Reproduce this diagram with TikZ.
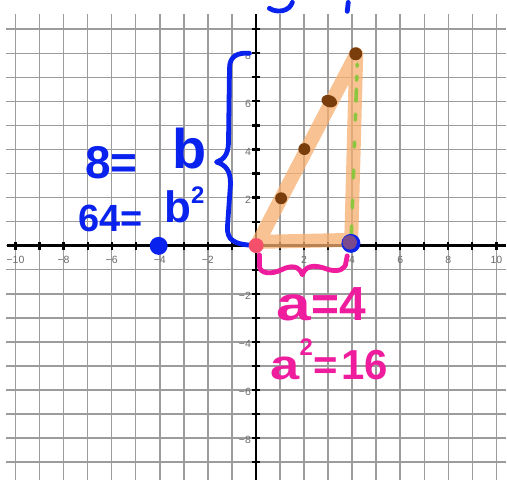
\documentclass[tikz,border=0pt]{standalone}
\usepackage{fontspec}
\setmainfont{Liberation Sans}
\definecolor{gridgray}{HTML}{9C9C9C}
\definecolor{labgray}{HTML}{6A6A6A}
\definecolor{penblue}{HTML}{0A22EE}
\definecolor{penpink}{HTML}{F01C9E}
\definecolor{penorange}{HTML}{F7AE6E}
\definecolor{penbrown}{HTML}{7A3E0C}
\definecolor{pengreen}{HTML}{8CC63F}
\definecolor{penred}{HTML}{F4506C}
\definecolor{penpurple}{HTML}{7B4A8C}
\begin{document}
\begin{tikzpicture}[x=24.1pt,y=24.1pt,
  gridline/.style={draw=gridgray, line width=1.5pt},
  axisline/.style={draw=black, line width=2.4pt},
  tickmark/.style={draw=black, line width=2.2pt},
  axlabel/.style={text=labgray, font=\fontsize{10.5}{10.5}\selectfont, inner sep=0pt},
  bluepen/.style={draw=penblue, line width=4.8pt, line cap=round, line join=round},
  pinkpen/.style={draw=penpink, line width=4.8pt, line cap=round, line join=round},
  bluetext/.style={text=penblue, inner sep=0pt, anchor=base west, font=\bfseries},
  pinktext/.style={text=penpink, inner sep=0pt, anchor=base west, font=\bfseries}]
% pixel scope for bounding box
\begin{scope}[shift={(-256.5pt,241.8pt)}, x=1pt, y=-1pt]
  \useasboundingbox (0,0) rectangle (507,477);
  \fill[white] (0,0) rectangle (507,477);
\end{scope}
% grid
\foreach \i in {-10,...,10} \draw[gridline] (\i,9.62) -- (\i,-9.76);
\foreach \j in {-9,...,9} \draw[gridline] (-10.39,\j) -- (10.39,\j);
% axes
\draw[axisline] (-10.35,0) -- (10.39,0);
\draw[axisline] (0,9.62) -- (0,-9.76);
\foreach \i in {-10,...,10} \draw[tickmark] (\i,-0.17) -- (\i,0.17);
\foreach \j in {-9,...,9} \draw[tickmark] (-0.17,\j) -- (0.17,\j);
% axis labels
\foreach \i in {-10,-8,-6,-4,-2,2,4,6,8,10}{
  \pgfmathtruncatemacro\k{\i+10}
  \pgfmathtruncatemacro\a{abs(\i)}
  \node[axlabel] (xl\k) at (\i,-0.58) {\ifnum\i<0 −\fi\a};
}
\foreach \j in {-8,-6,-4,-2,2,4,6,8}{
  \pgfmathtruncatemacro\k{\j+10}
  \pgfmathtruncatemacro\a{abs(\j)}
  \node[axlabel, anchor=east] (yl\k) at (-0.2,\j-0.09) {\ifnum\j<0 −\fi\a};
}
% handwriting in pixel coordinates
\begin{scope}[shift={(-256.5pt,241.8pt)}, x=1pt, y=-1pt]
  % orange triangle
  \draw[penorange, opacity=0.75, line width=14pt, line join=round, line cap=round]
    (259,238) -- (357,50) -- (352,236) -- cycle;
  % brown dots
  \fill[penbrown] (281.7,194.3) circle (6);
  \fill[penbrown] (305,145) circle (6);
  \fill[penbrown, rotate around={-20:(330,97)}] (330,97) ellipse (8 and 6);
  \fill[penbrown] (356.5,49.5) circle (6.5);
  % green dotted side
  \foreach \ya/\yb in {60/62,72/76,85/97,110/116,138/143,166/174,196/204,222/230}{
    \draw[pengreen, line width=3.6pt, line cap=round]
      ({358-6*(\ya-60)/175},\ya) -- ({358-6*(\yb-60)/175},\yb);
  }
  % blue brace
  \draw[bluepen] (250,49) .. controls (238,48) and (230,52) .. (230,64)
    -- (229,138) .. controls (229,150) and (224,156) .. (217,158)
    .. controls (226,161) and (231,166) .. (231,180)
    -- (228,222) .. controls (227,236) and (234,241) .. (256,241.5);
  % blue top fragments
  \draw[bluepen] (270,4) .. controls (278,9) and (290,7) .. (293,-2);
  \draw[bluepen] (349,-2) -- (348,7);
  % blue text
  \node[bluetext] (eqb1) at (85,174) {\fontsize{46}{46}\selectfont 8=\hspace{35pt}\raisebox{10pt}{\fontsize{56}{56}\selectfont b}};
  \node[bluetext] (eqb2) at (78,228) {\fontsize{38}{38}\selectfont 64=\hspace{22pt}\raisebox{9pt}{\fontsize{44}{44}\selectfont b}\raisebox{28pt}{\fontsize{24}{24}\selectfont 2}};
  % points
  \fill[penblue] (159,242) circle (9);
  \fill[penred] (256.7,241.7) circle (7.5);
  \fill[penblue] (351.7,239.5) circle (9.5);
  \fill[penpurple] (350.5,238.5) circle (7.2);
  % magenta brace
  \draw[pinkpen] (260,251) -- (260,262) .. controls (260,270) and (272,271) .. (282,266)
    .. controls (292,261) and (300,262) .. (303,271)
    .. controls (306,262) and (314,261) .. (324,264)
    .. controls (334,268) and (342,268) .. (346,262) -- (348,252);
  % magenta text
  \node[pinktext] (eqa1) at (277,317) {\fontsize{48}{48}\selectfont \scalebox{1.3}[1]{a}=4};
  \node[pinktext] (eqa2) at (271,376) {\fontsize{42}{42}\selectfont \scalebox{1.25}[1]{a}\raisebox{24pt}{\fontsize{24}{24}\selectfont 2}=\hspace{4pt}16};
\end{scope}
\end{tikzpicture}
\end{document}
